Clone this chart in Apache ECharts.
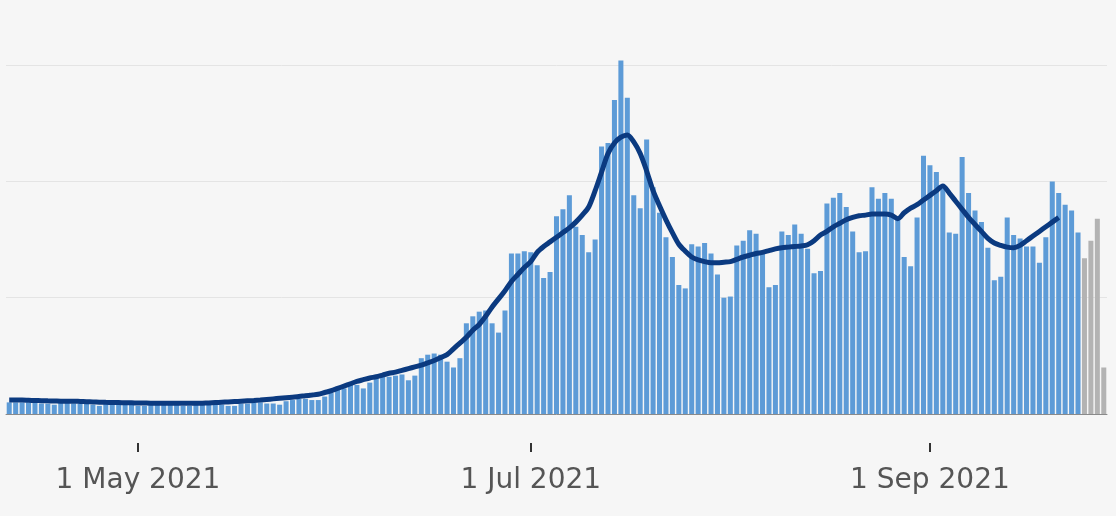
<!DOCTYPE html>
<html>
<head>
<meta charset="utf-8">
<script src="https://cdn.jsdelivr.net/npm/echarts@6/dist/echarts.min.js"></script>
<style>
html,body{margin:0;padding:0;background:#f6f6f6;}
#c{width:1116px;height:516px;}
</style>
</head>
<body>
<div id="c"></div>
<script>
// Daily values, 11 Apr 2021 .. 28 Sep 2021
const startDate = '2021-04-11';
const dayCount = 171;

// Complete days (blue bars), 11 Apr .. 24 Sep
const dailyCases = [
  10,10,10,10,10,9,9,8,10,10,9,9,9,8,7,9,9,8,8,8,
  7,7,8,8,8,8,8,7,7,8,8,8,8,8,7,7,9,9,10,10,
  9,9,8,11,12,13,13,12,12,15,18,22,22,25,25,22,27,31,32,32,
  33,34,29,33,48,51,52,51,45,40,48,78,84,88,89,78,70,89,138,138,
  140,139,128,117,122,170,176,188,161,154,139,150,230,233,270,304,272,188,177,236,
  195,173,152,135,111,108,146,144,147,138,120,100,101,145,149,158,155,140,109,111,
  157,154,163,155,142,121,123,181,186,190,178,157,139,140,195,185,190,185,170,135,
  127,169,222,214,208,194,156,155,221,190,175,165,143,115,118,169,154,151,144,144,
  130,152,200,190,180,175,156
];

// Incomplete recent days (grey bars), 25 Sep .. 28 Sep
const incompleteCases = [134,149,168,40];

// Rolling average line, 11 Apr .. 21 Sep
const rollingAverage = [
  12,12,12,11.8,11.6,11.5,11.3,11.2,11,11,11,10.8,10.6,10.4,10.2,10,9.9,9.8,9.7,9.6,
  9.5,9.4,9.3,9.3,9.2,9.2,9.2,9.2,9.2,9.2,9.3,9.5,9.8,10.1,10.4,10.7,11,11.3,11.6,12,
  12.5,13,13.5,14,14.5,15,15.7,16.3,17,18.5,20,22,24,26,28,29.5,31,32,33.5,35,
  36,37.5,39,40.5,42,44,46,48.5,51,56,61,66,72,77,84,92,99,106,114,120,
  126,131,139,144,148,152,156,160,165,171,178,192,208,224,233,238,240,234,224,209,
  192,179,167,156,146,140,135,132.5,131,130,130,130.5,131,133,135,136.5,138,139,140.5,142,
  143,143.5,144,144.5,145.5,149,154,157,161,164,167,169,170.5,171,172,172,172,171,168,173,
  177,180,184,188,192,196,190,183,176,169,163,157,151,147,145,143.5,143,145,149,153,
  157,161,165,169
];

const tickLabels = {
  '2021-05-01': '1 May 2021',
  '2021-07-01': '1 Jul 2021',
  '2021-09-01': '1 Sep 2021'
};

const yMin = 0;
const yMax = 356;
const yInterval = 100;

// categories
const categories = [];
{
  const d0 = new Date(startDate + 'T00:00:00Z');
  for (let i = 0; i < dayCount; i++) {
    const d = new Date(d0.getTime() + i * 86400000);
    categories.push(d.toISOString().slice(0, 10));
  }
}

const blueData = categories.map((c, i) => i < dailyCases.length ? dailyCases[i] : '-');
const greyData = categories.map((c, i) => {
  const k = i - dailyCases.length;
  return (k >= 0 && k < incompleteCases.length) ? incompleteCases[k] : '-';
});
const lineData = categories.map((c, i) => i < rollingAverage.length ? rollingAverage[i] : '-');

const isTick = (idx, val) => Object.prototype.hasOwnProperty.call(tickLabels, val);

const chart = echarts.init(document.getElementById('c'), null, {renderer: 'canvas'});
chart.setOption({
  backgroundColor: '#f6f6f6',
  animation: false,
  grid: {left: 6, right: 9, top: 0, bottom: 102, containLabel: false},
  xAxis: [
    {
      type: 'category',
      data: categories,
      boundaryGap: true,
      axisLine: {show: true, lineStyle: {color: '#8a8a8a', width: 1}},
      axisTick: {show: false},
      axisLabel: {show: false},
      splitLine: {show: false}
    },
    {
      type: 'category',
      data: categories,
      position: 'bottom',
      offset: 29,
      boundaryGap: true,
      axisLine: {show: false},
      axisTick: {show: true, interval: isTick, alignWithLabel: true, length: 9,
                 lineStyle: {color: '#333', width: 2}},
      axisLabel: {
        show: true, interval: isTick, margin: 24,
        formatter: v => tickLabels[v] || '',
        color: '#555555', fontSize: 28, fontFamily: 'DejaVu Sans'
      },
      splitLine: {show: false}
    }
  ],
  yAxis: {
    type: 'value',
    min: yMin,
    max: yMax,
    interval: yInterval,
    axisLine: {show: false},
    axisTick: {show: false},
    axisLabel: {show: false},
    splitLine: {show: true, lineStyle: {
      color: ['#e4e4e4', '#e4e4e4', '#e4e4e4', '#e4e4e4', 'rgba(0,0,0,0)'], width: 1}}
  },
  series: [
    {
      type: 'bar',
      name: 'Cases',
      xAxisIndex: 0,
      data: blueData,
      barCategoryGap: '22%',
      barGap: '-100%',
      itemStyle: {color: '#5d9bd7'},
      z: 2
    },
    {
      type: 'bar',
      name: 'Incomplete',
      xAxisIndex: 0,
      data: greyData,
      barCategoryGap: '22%',
      barGap: '-100%',
      itemStyle: {color: '#b3b3b3'},
      z: 2
    },
    {
      type: 'line',
      name: 'Rolling average',
      xAxisIndex: 0,
      data: lineData,
      smooth: 0.3,
      showSymbol: false,
      symbol: 'none',
      lineStyle: {color: '#0b3a80', width: 5},
      z: 5
    }
  ]
});
</script>
</body>
</html>
